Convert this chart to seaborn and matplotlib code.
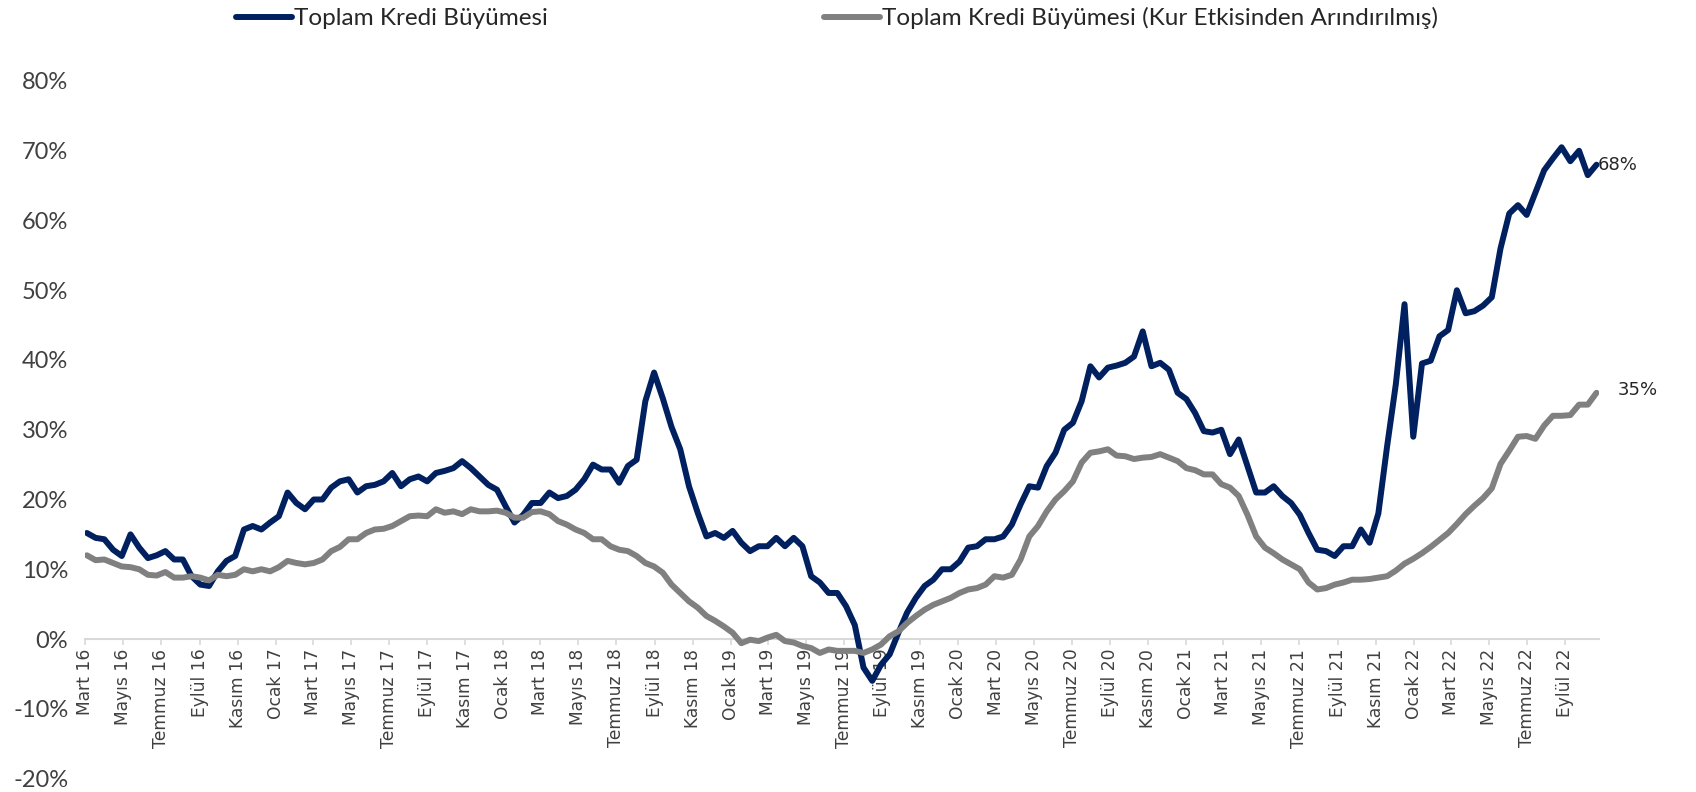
import pandas as pd
import seaborn as sns
import matplotlib.pyplot as plt
from matplotlib.ticker import FuncFormatter

# iki haftalik gozlemler (yuzde), Mart 2016 - Ekim 2022
kredi_buyume = [
    15.2, 14.5, 14.3, 12.8, 11.9, 15.0, 13.1, 11.6, 12.0, 12.6,
    11.4, 11.4, 9.0, 7.8, 7.6, 9.7, 11.2, 11.9, 15.7, 16.2,
    15.7, 16.7, 17.6, 21.0, 19.5, 18.6, 20.0, 20.0, 21.7, 22.6,
    22.9, 21.0, 21.9, 22.1, 22.6, 23.8, 21.9, 22.9, 23.3, 22.6,
    23.8, 24.1, 24.5, 25.5, 24.5, 23.3, 22.1, 21.4, 19.0, 16.7,
    17.8, 19.5, 19.5, 21.0, 20.2, 20.5, 21.4, 22.9, 25.0, 24.3,
    24.3, 22.4, 24.8, 25.7, 34.1, 38.2, 34.5, 30.4, 27.2, 21.9,
    18.1, 14.7, 15.2, 14.5, 15.5, 13.8, 12.6,
    13.3, 13.3, 14.5, 13.3, 14.5, 13.3, 9.0, 8.1, 6.6, 6.6, 4.7, 2.0,
    -4.1, -6.0, -3.7, -2.2, 0.9, 3.8, 5.9, 7.6, 8.5, 10.0,
    10.0, 11.1, 13.1, 13.3, 14.3, 14.3, 14.7, 16.4, 19.3, 21.9,
    21.7, 24.8, 26.7, 30.0, 31.0, 34.1, 39.1, 37.5, 38.9, 39.2,
    39.6, 40.5, 44.1, 39.1, 39.6, 38.6, 35.3, 34.4, 32.4, 29.8,
    29.6, 30.0, 26.5, 28.6, 24.8, 21.0, 21.0, 21.9, 20.5, 19.5,
    17.8, 15.2, 12.8, 12.6, 11.9, 13.3, 13.3, 15.7, 13.8, 18.0,
    27.6, 36.5, 48.0, 29.0, 39.5, 39.9, 43.4, 44.3, 50.0, 46.7,
    47.0, 47.8, 49.0, 56.0, 61.0, 62.2, 60.8, 64.0, 67.2, 68.9,
    70.5, 68.5, 70.0, 66.5, 68.0,
]

kur_arindirilmis = [
    12.0, 11.3, 11.4, 10.9, 10.4, 10.3, 10.0, 9.2, 9.1, 9.6,
    8.8, 8.8, 9.0, 8.8, 8.4, 9.2, 9.0, 9.2, 10.0, 9.7,
    10.0, 9.7, 10.3, 11.2, 10.9, 10.7, 10.9, 11.4, 12.6, 13.2,
    14.3, 14.3, 15.2, 15.7, 15.8, 16.2, 16.9, 17.6, 17.7, 17.6,
    18.6, 18.1, 18.3, 17.9, 18.6, 18.3, 18.3, 18.4, 18.1, 17.4,
    17.4, 18.2, 18.3, 17.9, 16.9, 16.4, 15.7, 15.2, 14.3, 14.3,
    13.3, 12.8, 12.6, 11.9, 10.9, 10.4, 9.5, 7.8, 6.6, 5.4,
    4.5, 3.3, 2.6, 1.8, 0.9, -0.6, -0.1,
    -0.3, 0.2, 0.6, -0.3, -0.5, -1.0, -1.3, -2.0, -1.5, -1.7, -1.7, -1.7,
    -2.0, -1.5, -0.8, 0.4, 1.1, 2.3, 3.3, 4.2, 4.9, 5.4,
    5.9, 6.6, 7.1, 7.3, 7.8, 9.0, 8.8, 9.2, 11.4, 14.7,
    16.2, 18.3, 20.0, 21.2, 22.6, 25.3, 26.7, 26.9, 27.2, 26.3,
    26.2, 25.8, 26.0, 26.1, 26.5, 26.0, 25.5, 24.5, 24.2, 23.6,
    23.6, 22.2, 21.7, 20.5, 17.8, 14.7, 13.1, 12.3, 11.4, 10.7,
    10.0, 8.1, 7.1, 7.3, 7.8, 8.1, 8.5, 8.5, 8.6, 8.8,
    9.0, 9.8, 10.8, 11.5, 12.3, 13.2, 14.2, 15.2, 16.5, 17.9,
    19.1, 20.2, 21.6, 25.1, 27.0, 29.0, 29.1, 28.7, 30.6, 32.0,
    32.0, 32.1, 33.6, 33.6, 35.3,
]

seri_adlari = ["Toplam Kredi Büyümesi", "Toplam Kredi Büyümesi (Kur Etkisinden Arındırılmış)"]
ay_adlari = ["Ocak", "Şubat", "Mart", "Nisan", "Mayıs", "Haziran",
             "Temmuz", "Ağustos", "Eylül", "Ekim", "Kasım", "Aralık"]
y_ticks = [-20, -10, 0, 10, 20, 30, 40, 50, 60, 70, 80]

tarihler = pd.date_range("2016-03-04", periods=len(kredi_buyume), freq="14D")
tick_tarihleri = pd.date_range("2016-03-01", "2022-09-01", freq="2MS")
tick_etiketleri = [f"{ay_adlari[d.month - 1]} {d.strftime('%y')}" for d in tick_tarihleri]

df = pd.DataFrame({"tarih": tarihler, "kredi": kredi_buyume, "kur": kur_arindirilmis})

sns.set_theme(style="white")
plt.rcParams["font.family"] = ["Lato", "DejaVu Sans"]

lacivert = "#002060"
gri = "#808080"

fig = plt.figure(figsize=(16.96, 7.92), dpi=100)
ax = fig.add_axes([85 / 1696, 1 - 778.5 / 792, (1599 - 85) / 1696, (778.5 - 81) / 792])

sns.lineplot(data=df, x="tarih", y="kredi", ax=ax, color=lacivert, linewidth=4.3, label=seri_adlari[0])
sns.lineplot(data=df, x="tarih", y="kur", ax=ax, color=gri, linewidth=4.3, label=seri_adlari[1])
for ln in ax.lines:
    ln.set_solid_joinstyle("round")
    ln.set_solid_capstyle("round")

ax.set_ylim(-20, 80)
ax.set_xlim(pd.Timestamp("2016-03-01"), tarihler[-1] + pd.Timedelta(days=4))
ax.set_yticks(y_ticks)
ax.yaxis.set_major_formatter(FuncFormatter(lambda v, p: f"{v:.0f}%"))
ax.set_xticks(tick_tarihleri)
ax.set_xticklabels(tick_etiketleri)
ax.set_xlabel("")
ax.set_ylabel("")

for s in ["left", "right", "top"]:
    ax.spines[s].set_visible(False)
ax.spines["bottom"].set_position(("data", 0))
ax.spines["bottom"].set_color("#D9D9D9")
ax.spines["bottom"].set_linewidth(1.5)
ax.spines["bottom"].set_zorder(0)

ax.tick_params(axis="x", direction="out", length=4.5, width=1.2, color="#D9D9D9", pad=2.5, bottom=True,
               labelrotation=90, labelsize=12.3, labelcolor="#404040")
ax.tick_params(axis="y", length=0, pad=12, labelsize=17, labelcolor="#404040")
for t in ax.get_xticklabels():
    t.set_family("DejaVu Sans")
    t.set_rotation(90)
    t.set_ha("center")
    t.set_va("top")

ax.annotate("68%", xy=(tarihler[-1], kredi_buyume[-1]), xytext=(1, 0), textcoords="offset points",
            ha="left", va="center", fontsize=13, family="DejaVu Sans", color="#262626")
ax.annotate("35%", xy=(tarihler[-1], kur_arindirilmis[-1]), xytext=(15, 2), textcoords="offset points",
            ha="left", va="center", fontsize=13, family="DejaVu Sans", color="#262626")

ax.legend(loc="center left", bbox_to_anchor=(236 / 1696, 1 - 18 / 792), bbox_transform=fig.transFigure,
          ncol=2, frameon=False, fontsize=17.5, handlelength=2.3, handletextpad=0.1,
          columnspacing=11.35, borderpad=0, borderaxespad=0, labelcolor="#262626")

fig.savefig("out.png", dpi=100)
plt.close(fig)
